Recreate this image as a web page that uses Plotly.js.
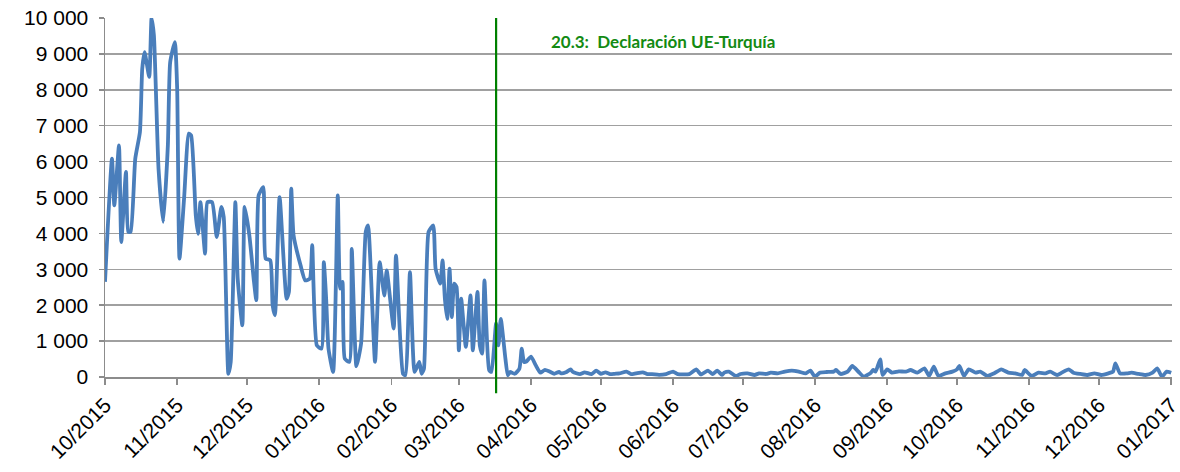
<!DOCTYPE html>
<html>
<head>
<meta charset="utf-8">
<script src="https://cdn.plot.ly/plotly-3.0.1.min.js"></script>
<style>html,body{margin:0;padding:0;background:#fff;}#chart{width:1180px;height:472px;}</style>
</head>
<body>
<div id="chart"></div>
<script>
// Days counted from 2015-10-01
const startDate = '2015-10-01';
const dayIndex = [
0,3,4,6,7,9,10,11,13,15,16,17,19,20,21,23,25,27,28,30,31,32,34,36,37,39,40,41,43,44,46,48,50,51,53,54,56,57,59,60,
62,64,65,66,68,69,71,72,73,75,78,79,80,81,84,86,88,89,91,93,94,95,96,98,100,101,102,103,105,106,108,110,112,113,116,118,120,121,124,125,
128,129,131,133,135,136,137,139,141,142,144,145,146,147,148,149,150,151,152,153,155,157,158,160,161,162,163,165,166,168,169,170,172,173,174,176,178,179,180,
181,183,185,187,189,191,193,195,196,198,200,201,204,206,209,211,213,215,217,219,221,224,226,228,231,233,235,238,241,244,246,251,254,256,259,261,263,265,
266,268,271,273,276,279,281,284,286,289,292,295,298,301,303,305,307,310,313,314,316,319,321,324,326,329,330,331,333,334,336,338,341,344,346,349,352,354,356,358,
361,364,366,367,369,371,374,376,379,382,385,388,391,394,395,398,401,404,406,409,411,414,416,419,422,425,428,431,433,434,436,439,441,444,447,450,452,454,456,458
];
const arrivals = [
2650,6080,4780,6450,3760,5710,4040,4040,6080,6820,8590,9050,8360,10000,9520,5800,4320,6450,8770,9330,8030,3300,5000,6780,6730,4500,3990,4870,3435,4870,4870,3900,4735,4460,90,420,4870,2740,1440,4735,
3950,2650,2140,5060,5290,3300,3250,2000,1720,5010,2180,2370,5250,3950,3110,2690,2740,3670,880,790,3200,2180,790,140,5060,2460,2650,510,420,3570,300,930,4040,4220,420,3200,2270,2970,1350,3390,
90,50,2920,140,420,90,230,4040,4220,3020,2600,3250,2180,1620,3020,1670,2600,2510,740,2180,840,2270,740,2370,880,650,2690,190,140,1490,880,1620,510,50,140,90,230,790,420,
430,570,330,120,200,150,90,140,100,130,210,140,80,130,80,180,90,130,80,90,100,150,80,100,130,80,80,60,80,150,80,80,210,70,180,80,180,60,
121,149,28,84,102,56,102,84,121,102,149,176,149,102,176,9,121,139,149,195,84,149,307,121,9,121,195,149,492,56,214,121,158,149,195,121,242,28,288,28,
102,149,214,307,28,214,121,149,28,102,214,121,102,56,195,28,121,102,149,56,121,214,121,84,56,102,56,102,149,381,102,102,121,84,56,121,242,9,149,120
];
const monthTicks = ['2015-10-01','2015-11-01','2015-12-01','2016-01-01','2016-02-01','2016-03-01','2016-04-01','2016-05-01',
  '2016-06-01','2016-07-01','2016-08-01','2016-09-01','2016-10-01','2016-11-01','2016-12-01','2017-01-01'];
const monthLabels = ['10/2015','11/2015','12/2015','01/2016','02/2016','03/2016','04/2016','05/2016',
  '06/2016','07/2016','08/2016','09/2016','10/2016','11/2016','12/2016','01/2017'];
const eventDate = '2016-03-17';
const eventLabel = '20.3:  Declaración UE-Turquía';

const base = Date.UTC(2015, 9, 1);
const dates = dayIndex.map(d => new Date(base + d * 86400000).toISOString().slice(0, 10));

const trace = {
  x: dates, y: arrivals, type: 'scatter', mode: 'lines',
  line: {color: '#4a7ebb', width: 3.8, shape: 'spline', smoothing: 0.5},
  hoverinfo: 'x+y', showlegend: false
};

const tickFont = {family: 'Liberation Sans, Arial, sans-serif', size: 21, color: '#000'};

const layout = {
  width: 1180, height: 472,
  margin: {l: 105, r: 8, t: 18, b: 95},
  paper_bgcolor: '#ffffff', plot_bgcolor: '#ffffff',
  separators: ', ',
  font: tickFont,
  xaxis: {
    type: 'date', range: ['2015-10-01', '2017-01-01 08:00'],
    tickmode: 'array', tickvals: monthTicks, ticktext: monthLabels, tickangle: -45,
    ticklabeloverflow: 'allow',
    ticks: 'outside', ticklen: 6, tickcolor: '#8c8c8c', tickwidth: 1.5,
    showgrid: false, showline: true, linecolor: '#8c8c8c', linewidth: 1.5,
    zeroline: false, fixedrange: true, tickfont: tickFont
  },
  yaxis: {
    range: [0, 10000], dtick: 1000, tick0: 0, tickformat: ',d',
    ticks: 'outside', ticklen: 5, tickcolor: '#8c8c8c', tickwidth: 1.5,
    showgrid: true, gridcolor: '#a0a0a0', gridwidth: 1.5,
    showline: true, linecolor: '#8c8c8c', linewidth: 1.5,
    zeroline: false, fixedrange: true, ticklabelstandoff: 6, tickfont: tickFont
  },
  shapes: [{
    type: 'line', xref: 'x', yref: 'paper', x0: eventDate, x1: eventDate, y0: -0.045, y1: 1,
    line: {color: '#008000', width: 2.2}
  }],
  annotations: [{
    xref: 'paper', yref: 'paper', x: 0.4165, y: 0.935, xanchor: 'left', yanchor: 'middle',
    text: '<b>' + eventLabel + '</b>', showarrow: false,
    font: {family: 'Lato, Open Sans, sans-serif', size: 17, color: '#138a13'}
  }]
};

Plotly.newPlot('chart', [trace], layout, {displayModeBar: false, staticPlot: true});
</script>
</body>
</html>
